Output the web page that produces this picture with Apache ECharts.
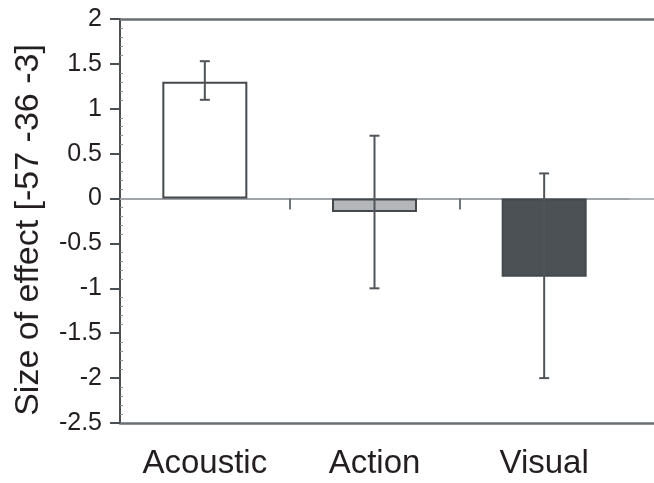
<!DOCTYPE html>
<html>
<head>
<meta charset="utf-8">
<script src="https://cdn.jsdelivr.net/npm/echarts@6/dist/echarts.min.js"></script>
<style>
  html, body { margin: 0; padding: 0; background: #fff; }
  #chart { width: 654px; height: 483px; }
</style>
</head>
<body>
<div id="chart"></div>
<script>
var categories = ['Acoustic', 'Action', 'Visual'];
var effects = [1.3, -0.15, -0.87];
var errLow = [1.1, -1.0, -2.0];
var errHigh = [1.53, 0.7, 0.28];
var yTicks = { min: -2.5, max: 2, step: 0.5 };

var barFill = ['#ffffff', '#b4b6b9', '#4c5155'];
var lineDark = '#4a4f52';
var txt = '#231f20';
var font = 'Arial, "Liberation Sans", sans-serif';

var dom = document.getElementById('chart');
var myChart = echarts.init(dom, null, { renderer: 'canvas' });

var barData = effects.map(function (v, i) {
  return { value: v, itemStyle: { color: barFill[i] } };
});
var errData = categories.map(function (c, i) {
  return [i, errLow[i], errHigh[i]];
});

var option = {
  animation: false,
  grid: [
    { left: 120, right: 25, top: 19, bottom: 60 },
    { left: 120, right: 0, top: 19, bottom: 60 }
  ],
  xAxis: [
    {
      gridIndex: 0, type: 'category', data: categories, position: 'bottom',
      axisLine: { show: false, onZero: false },
      axisTick: { show: false },
      axisLabel: { fontSize: 33, color: txt, fontFamily: font, margin: 24 }
    },
    {
      gridIndex: 0, type: 'value', min: 0, max: 3, position: 'bottom',
      axisLine: { show: true, onZero: true, lineStyle: { color: '#9a9fa2', width: 1.5 } },
      axisTick: { show: true, customValues: [1, 2], length: 11, lineStyle: { color: '#6f7478', width: 2 } },
      axisLabel: { show: false },
      splitLine: { show: false }
    },
    {
      gridIndex: 1, type: 'value', min: 0, max: 1, position: 'bottom',
      axisLine: { show: true, onZero: false, lineStyle: { color: '#6a6f73', width: 2.5 } },
      axisTick: { show: false }, axisLabel: { show: false }, splitLine: { show: false }
    },
    {
      gridIndex: 1, type: 'value', min: 0, max: 1, position: 'top',
      axisLine: { show: true, onZero: false, lineStyle: { color: '#6a6f73', width: 2.5 } },
      axisTick: { show: false }, axisLabel: { show: false }, splitLine: { show: false }
    },
    {
      gridIndex: 1, type: 'value', min: 0, max: 1, position: 'bottom',
      axisLine: { show: true, onZero: true, lineStyle: { color: '#9a9fa2', width: 1.5 } },
      axisTick: { show: false }, axisLabel: { show: false }, splitLine: { show: false }
    }
  ],
  yAxis: [
    {
      gridIndex: 0, type: 'value', position: 'left',
      min: yTicks.min, max: yTicks.max, interval: yTicks.step,
      name: 'Size of effect [-57 -36 -3]',
      nameLocation: 'middle', nameGap: 74,
      nameTextStyle: { fontSize: 34, color: txt, fontFamily: font, padding: [0, 18, 0, 0] },
      axisLine: { show: true, lineStyle: { color: lineDark, width: 2 } },
      axisTick: { show: true, length: 10, lineStyle: { color: lineDark, width: 2 } },
      axisLabel: { fontSize: 25, color: txt, fontFamily: font, margin: 18 },
      splitLine: { show: false }
    },
    {
      gridIndex: 0, type: 'value', position: 'left',
      min: yTicks.min, max: yTicks.max, interval: yTicks.step,
      axisLine: { show: false },
      axisTick: { show: false, inside: true },
      minorTick: { show: true, splitNumber: 5, length: 3, lineStyle: { color: '#8a8f92', width: 1 } },
      axisLabel: { show: false },
      splitLine: { show: false }
    },
    {
      gridIndex: 1, type: 'value', min: yTicks.min, max: yTicks.max,
      show: false
    }
  ],
  series: [
    {
      type: 'bar',
      xAxisIndex: 0, yAxisIndex: 0,
      data: barData,
      barWidth: 85,
      itemStyle: { borderColor: '#44494c', borderWidth: 2 }
    },
    {
      type: 'custom',
      xAxisIndex: 0, yAxisIndex: 0,
      data: errData,
      z: 5,
      renderItem: function (params, api) {
        var lo = api.coord([api.value(0), api.value(1)]);
        var hi = api.coord([api.value(0), api.value(2)]);
        var cap = 5;
        var st = { stroke: '#50555a', lineWidth: 2 };
        return {
          type: 'group',
          children: [
            { type: 'line', shape: { x1: hi[0], y1: hi[1], x2: lo[0], y2: lo[1] }, style: st },
            { type: 'line', shape: { x1: hi[0] - cap, y1: hi[1], x2: hi[0] + cap, y2: hi[1] }, style: st },
            { type: 'line', shape: { x1: lo[0] - cap, y1: lo[1], x2: lo[0] + cap, y2: lo[1] }, style: st }
          ]
        };
      }
    }
  ]
};

if (option && typeof option === 'object') {
  myChart.setOption(option);
}

window.addEventListener('resize', myChart.resize);
</script>
</body>
</html>
